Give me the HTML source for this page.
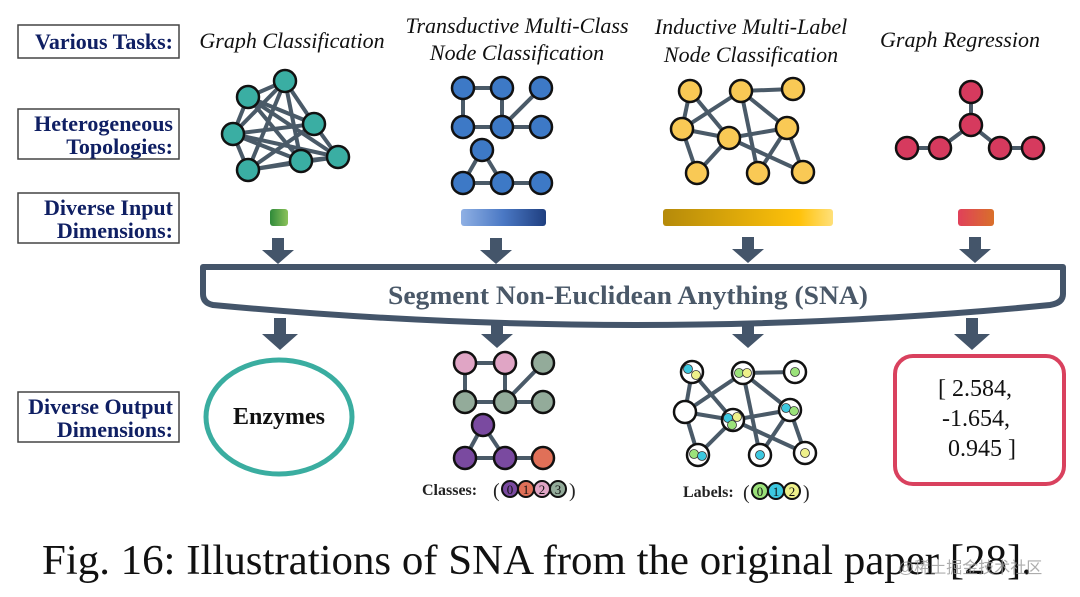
<!DOCTYPE html>
<html><head><meta charset="utf-8"><style>
html,body{margin:0;padding:0;background:#fff;}
svg{display:block;}
.lbl{font-family:"Liberation Serif",serif;font-weight:bold;font-size:22px;fill:#0f1f63;}
.task{font-family:"Liberation Serif",serif;font-style:italic;font-size:22px;fill:#111;}
.e{stroke:#4a5a68;stroke-width:4;}
</style></head><body>
<svg width="1080" height="597" viewBox="0 0 1080 597" xmlns="http://www.w3.org/2000/svg">
<defs>
<linearGradient id="gg" x1="0" x2="1"><stop offset="0" stop-color="#2f8a3a"/><stop offset="1" stop-color="#8cc25a"/></linearGradient>
<linearGradient id="gb" x1="0" x2="1"><stop offset="0" stop-color="#8fb0e4"/><stop offset="0.5" stop-color="#4a78c4"/><stop offset="1" stop-color="#1f3f80"/></linearGradient>
<linearGradient id="gy" x1="0" x2="1"><stop offset="0" stop-color="#b58a0a"/><stop offset="0.8" stop-color="#ffc20a"/><stop offset="1" stop-color="#ffe07a"/></linearGradient>
<linearGradient id="gr" x1="0" x2="1"><stop offset="0" stop-color="#e0405a"/><stop offset="1" stop-color="#d9702a"/></linearGradient>
</defs>
<g fill="#fff" stroke="#444" stroke-width="1.5">
<rect x="18" y="25" width="161" height="33"/>
<rect x="18" y="109" width="161" height="50"/>
<rect x="18" y="193" width="161" height="50"/>
<rect x="18" y="392" width="161" height="50"/>
</g>
<g class="lbl" text-anchor="end">
<text x="173" y="49">Various Tasks:</text>
<text x="173" y="131">Heterogeneous</text>
<text x="173" y="154">Topologies:</text>
<text x="173" y="215">Diverse Input</text>
<text x="173" y="238">Dimensions:</text>
<text x="173" y="414">Diverse Output</text>
<text x="173" y="437">Dimensions:</text>
</g>
<g class="task" text-anchor="middle">
<text x="292" y="48">Graph Classification</text>
<text x="517" y="33">Transductive Multi-Class</text>
<text x="517" y="60">Node Classification</text>
<text x="751" y="34">Inductive Multi-Label</text>
<text x="751" y="62">Node Classification</text>
<text x="960" y="47">Graph Regression</text>
</g>
<g class="e">
<line x1="248" y1="97" x2="285" y2="81"/><line x1="248" y1="97" x2="233" y2="134"/>
<line x1="248" y1="97" x2="314" y2="124"/><line x1="248" y1="97" x2="301" y2="161"/><line x1="248" y1="97" x2="338" y2="157"/>
<line x1="285" y1="81" x2="314" y2="124"/><line x1="285" y1="81" x2="248" y2="170"/><line x1="285" y1="81" x2="301" y2="161"/><line x1="285" y1="81" x2="233" y2="134"/>
<line x1="233" y1="134" x2="314" y2="124"/><line x1="233" y1="134" x2="248" y2="170"/><line x1="233" y1="134" x2="301" y2="161"/><line x1="233" y1="134" x2="338" y2="157"/>
<line x1="314" y1="124" x2="248" y2="170"/><line x1="314" y1="124" x2="338" y2="157"/>
<line x1="248" y1="170" x2="301" y2="161"/><line x1="248" y1="170" x2="338" y2="157"/><line x1="301" y1="161" x2="338" y2="157"/>
</g>
<g fill="#3aaea3" stroke="#111" stroke-width="2.5">
<circle cx="248" cy="97" r="11"/><circle cx="285" cy="81" r="11"/><circle cx="233" cy="134" r="11"/><circle cx="314" cy="124" r="11"/><circle cx="248" cy="170" r="11"/><circle cx="301" cy="161" r="11"/><circle cx="338" cy="157" r="11"/>
</g>
<g class="e">
<line x1="463" y1="88" x2="502" y2="88"/><line x1="463" y1="88" x2="463" y2="127"/><line x1="502" y1="88" x2="502" y2="127"/>
<line x1="541" y1="88" x2="502" y2="127"/><line x1="463" y1="127" x2="541" y2="127"/>
<line x1="482" y1="150" x2="463" y2="183"/><line x1="482" y1="150" x2="502" y2="183"/><line x1="463" y1="183" x2="541" y2="183"/>
</g>
<g fill="#3d79c6" stroke="#111" stroke-width="2.5">
<circle cx="463" cy="88" r="11"/><circle cx="502" cy="88" r="11"/><circle cx="541" cy="88" r="11"/>
<circle cx="463" cy="127" r="11"/><circle cx="502" cy="127" r="11"/><circle cx="541" cy="127" r="11"/>
<circle cx="482" cy="150" r="11"/>
<circle cx="463" cy="183" r="11"/><circle cx="502" cy="183" r="11"/><circle cx="541" cy="183" r="11"/>
</g>
<g class="e">
<line x1="690" y1="91" x2="682" y2="129"/><line x1="690" y1="91" x2="729" y2="138"/>
<line x1="741" y1="91" x2="793" y2="89"/><line x1="741" y1="91" x2="682" y2="129"/><line x1="741" y1="91" x2="758" y2="173"/><line x1="741" y1="91" x2="787" y2="128"/>
<line x1="682" y1="129" x2="729" y2="138"/><line x1="682" y1="129" x2="697" y2="173"/><line x1="729" y1="138" x2="697" y2="173"/>
<line x1="729" y1="138" x2="787" y2="128"/><line x1="729" y1="138" x2="803" y2="172"/><line x1="787" y1="128" x2="758" y2="173"/><line x1="787" y1="128" x2="803" y2="172"/>
</g>
<g fill="#f9c955" stroke="#111" stroke-width="2.5">
<circle cx="690" cy="91" r="11"/><circle cx="741" cy="91" r="11"/><circle cx="793" cy="89" r="11"/>
<circle cx="682" cy="129" r="11"/><circle cx="729" cy="138" r="11"/><circle cx="787" cy="128" r="11"/>
<circle cx="697" cy="173" r="11"/><circle cx="758" cy="173" r="11"/><circle cx="803" cy="172" r="11"/>
</g>
<g class="e">
<line x1="971" y1="92" x2="971" y2="125"/><line x1="971" y1="125" x2="940" y2="148"/><line x1="971" y1="125" x2="1000" y2="148"/>
<line x1="907" y1="148" x2="940" y2="148"/><line x1="1000" y1="148" x2="1033" y2="148"/>
</g>
<g fill="#d63a5e" stroke="#111" stroke-width="2.5">
<circle cx="971" cy="92" r="11"/><circle cx="971" cy="125" r="11"/><circle cx="907" cy="148" r="11"/><circle cx="940" cy="148" r="11"/><circle cx="1000" cy="148" r="11"/><circle cx="1033" cy="148" r="11"/>
</g>
<rect x="270" y="209" width="18" height="17" rx="3" fill="url(#gg)"/>
<rect x="461" y="209" width="85" height="17" rx="3" fill="url(#gb)"/>
<rect x="663" y="209" width="170" height="17" rx="3" fill="url(#gy)"/>
<rect x="958" y="209" width="36" height="17" rx="3" fill="url(#gr)"/>
<g fill="#44556a">
<path d="M272 238h12v12h10l-16 14l-16-14h10z"/>
<path d="M490 238h12v12h10l-16 14l-16-14h10z"/>
<path d="M742 237h12v12h10l-16 14l-16-14h10z"/>
<path d="M969 237h12v12h10l-16 14l-16-14h10z"/>
<path d="M274 318h12v16h12l-18 16l-18-16h12z"/>
<path d="M491 320h12v14h10l-16 14l-16-14h10z"/>
<path d="M742 320h12v14h10l-16 14l-16-14h10z"/>
<path d="M966 318h12v16h12l-18 16l-18-16h12z"/>
</g>
<path d="M203 267 H1063 V294 Q1063 303 1050 305 Q640 345 213 305 Q203 303 203 294 Z" fill="#fff" stroke="#44556a" stroke-width="6" stroke-linejoin="round"/>
<text x="628" y="304" text-anchor="middle" font-family="Liberation Serif,serif" font-weight="bold" font-size="26" fill="#4a5868" textLength="480" lengthAdjust="spacingAndGlyphs">Segment Non-Euclidean Anything (SNA)</text>
<ellipse cx="279" cy="417" rx="73" ry="57" fill="#fff" stroke="#3aada0" stroke-width="5"/>
<text x="279" y="424" text-anchor="middle" font-family="Liberation Serif,serif" font-weight="bold" font-size="24" fill="#111">Enzymes</text>
<g class="e">
<line x1="465" y1="363" x2="505" y2="363"/><line x1="465" y1="363" x2="465" y2="402"/><line x1="505" y1="363" x2="505" y2="402"/>
<line x1="543" y1="363" x2="505" y2="402"/><line x1="465" y1="402" x2="543" y2="402"/>
<line x1="483" y1="425" x2="465" y2="458"/><line x1="483" y1="425" x2="505" y2="458"/><line x1="465" y1="458" x2="543" y2="458"/>
</g>
<g stroke="#111" stroke-width="2.5">
<circle cx="465" cy="363" r="11" fill="#e0a5c5"/><circle cx="505" cy="363" r="11" fill="#e0a5c5"/><circle cx="543" cy="363" r="11" fill="#93ab9a"/>
<circle cx="465" cy="402" r="11" fill="#93ab9a"/><circle cx="505" cy="402" r="11" fill="#93ab9a"/><circle cx="543" cy="402" r="11" fill="#93ab9a"/>
<circle cx="483" cy="425" r="11" fill="#7a4aa0"/>
<circle cx="465" cy="458" r="11" fill="#7a4aa0"/><circle cx="505" cy="458" r="11" fill="#7a4aa0"/><circle cx="543" cy="458" r="11" fill="#e07058"/>
</g>
<text x="422" y="495" font-family="Liberation Serif,serif" font-weight="bold" font-size="16" fill="#222">Classes:</text>
<text x="493" y="497" font-family="Liberation Serif,serif" font-size="20" fill="#222">(</text>
<g stroke="#111" stroke-width="2">
<circle cx="510" cy="489" r="8" fill="#7a4aa0"/><circle cx="526" cy="489" r="8" fill="#e07058"/><circle cx="542" cy="489" r="8" fill="#e0a5c5"/><circle cx="558" cy="489" r="8" fill="#93ab9a"/>
</g>
<g font-family="Liberation Serif,serif" font-size="13" text-anchor="middle" fill="#111">
<text x="510" y="494">0</text><text x="526" y="494">1</text><text x="542" y="494">2</text><text x="558" y="494">3</text>
</g>
<text x="569" y="497" font-family="Liberation Serif,serif" font-size="20" fill="#222">)</text>
<g class="e">
<line x1="692" y1="372" x2="685" y2="412"/><line x1="692" y1="372" x2="733" y2="420"/>
<line x1="743" y1="373" x2="795" y2="372"/><line x1="743" y1="373" x2="685" y2="412"/><line x1="743" y1="373" x2="760" y2="455"/><line x1="743" y1="373" x2="790" y2="410"/>
<line x1="685" y1="412" x2="733" y2="420"/><line x1="685" y1="412" x2="698" y2="455"/><line x1="733" y1="420" x2="698" y2="455"/>
<line x1="733" y1="420" x2="790" y2="410"/><line x1="733" y1="420" x2="805" y2="453"/><line x1="790" y1="410" x2="760" y2="455"/><line x1="790" y1="410" x2="805" y2="453"/>
</g>
<g fill="#fff" stroke="#111" stroke-width="2.5">
<circle cx="692" cy="372" r="11"/><circle cx="743" cy="373" r="11"/><circle cx="795" cy="372" r="11"/>
<circle cx="685" cy="412" r="11"/><circle cx="733" cy="420" r="11"/><circle cx="790" cy="410" r="11"/>
<circle cx="698" cy="455" r="11"/><circle cx="760" cy="455" r="11"/><circle cx="805" cy="453" r="11"/>
</g>
<g stroke="#333" stroke-width="0.8">
<circle cx="688" cy="369" r="4.5" fill="#3cc8e0"/><circle cx="696" cy="375" r="4.5" fill="#eef08a"/>
<circle cx="739" cy="373" r="4.5" fill="#9be27a"/><circle cx="747" cy="373" r="4.5" fill="#eef08a"/>
<circle cx="795" cy="372" r="4.5" fill="#9be27a"/>
<circle cx="728" cy="418" r="4.5" fill="#3cc8e0"/><circle cx="737" cy="417" r="4.5" fill="#eef08a"/><circle cx="732" cy="425" r="4.5" fill="#9be27a"/>
<circle cx="786" cy="408" r="4.5" fill="#3cc8e0"/><circle cx="794" cy="411" r="4.5" fill="#9be27a"/>
<circle cx="694" cy="454" r="4.5" fill="#9be27a"/><circle cx="702" cy="456" r="4.5" fill="#3cc8e0"/>
<circle cx="760" cy="455" r="4.5" fill="#3cc8e0"/><circle cx="805" cy="453" r="4.5" fill="#eef08a"/>
</g>
<text x="683" y="497" font-family="Liberation Serif,serif" font-weight="bold" font-size="16" fill="#222">Labels:</text>
<text x="743" y="499" font-family="Liberation Serif,serif" font-size="20" fill="#222">(</text>
<g stroke="#111" stroke-width="2">
<circle cx="760" cy="491" r="8" fill="#9be27a"/><circle cx="776" cy="491" r="8" fill="#3cc8e0"/><circle cx="792" cy="491" r="8" fill="#eef08a"/>
</g>
<g font-family="Liberation Serif,serif" font-size="13" text-anchor="middle" fill="#111">
<text x="760" y="496">0</text><text x="776" y="496">1</text><text x="792" y="496">2</text>
</g>
<text x="803" y="499" font-family="Liberation Serif,serif" font-size="20" fill="#222">)</text>
<rect x="895" y="356" width="169" height="128" rx="18" fill="#fff" stroke="#d9415e" stroke-width="4"/>
<g font-family="Liberation Serif,serif" font-size="24" fill="#111">
<text x="938" y="396">[ 2.584,</text>
<text x="942" y="426">-1.654,</text>
<text x="948" y="456">0.945 ]</text>
</g>
<text x="42" y="574" font-family="Liberation Serif,serif" font-size="42" fill="#111" textLength="990" lengthAdjust="spacingAndGlyphs">Fig. 16: Illustrations of SNA from the original paper [28].</text>
<text x="898" y="573" font-family="Liberation Sans,'Noto Sans CJK SC',sans-serif" font-size="16" fill="#999" opacity="0.8">@稀土掘金技术社区</text>
</svg>
</body></html>
